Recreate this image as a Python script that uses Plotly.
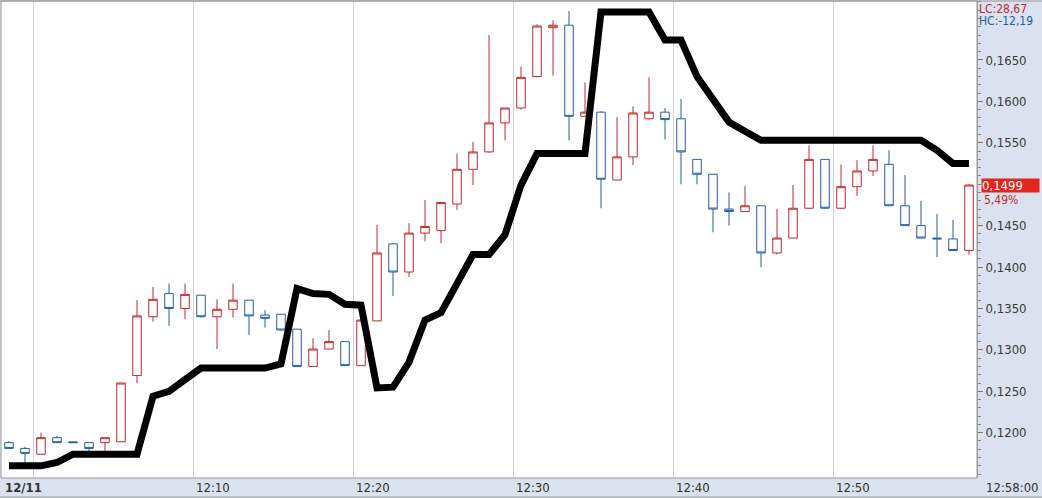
import plotly.graph_objects as go

# minute candles 11:58 .. 12:58
times = [f"{11 + (58 + i) // 60:02d}:{(58 + i) % 60:02d}" for i in range(61)]

opens = [0.1188, 0.1181, 0.1174, 0.1194, 0.1189, 0.1188, 0.1188, 0.1189, 0.1269, 0.1340,
         0.1368, 0.1350, 0.1366, 0.1340, 0.1349, 0.1360, 0.1342, 0.1343, 0.1325, 0.1280,
         0.1301, 0.1310, 0.1281, 0.1335, 0.1428, 0.1394, 0.1441, 0.1444, 0.1476, 0.1518,
         0.1539, 0.1574, 0.1592, 0.1630, 0.1689, 0.1692, 0.1582, 0.1587, 0.1505, 0.1533,
         0.1579, 0.1587, 0.1579, 0.1530, 0.1512, 0.1470, 0.1467, 0.1474, 0.1417, 0.1435,
         0.1471, 0.1530, 0.1471, 0.1497, 0.1516, 0.1524, 0.1474, 0.1450, 0.1435, 0.1434,
         0.1420]
highs = [0.1190, 0.1183, 0.1200, 0.1196, 0.1189, 0.1188, 0.1194, 0.1260, 0.1360, 0.1376,
         0.1380, 0.1380, 0.1366, 0.1361, 0.1380, 0.1360, 0.1348, 0.1343, 0.1325, 0.1314,
         0.1324, 0.1310, 0.1336, 0.1451, 0.1429, 0.1453, 0.1481, 0.1478, 0.1537, 0.1551,
         0.1680, 0.1592, 0.1642, 0.1693, 0.1698, 0.1709, 0.1623, 0.1588, 0.1581, 0.1594,
         0.1629, 0.1592, 0.1603, 0.1530, 0.1512, 0.1490, 0.1498, 0.1474, 0.1470, 0.1499,
         0.1547, 0.1530, 0.1524, 0.1529, 0.1547, 0.1541, 0.1511, 0.1480, 0.1464, 0.1457,
         0.1500]
lows = [0.1181, 0.1163, 0.1174, 0.1188, 0.1188, 0.1177, 0.1178, 0.1189, 0.1260, 0.1334,
        0.1329, 0.1337, 0.1339, 0.1301, 0.1339, 0.1318, 0.1327, 0.1323, 0.1280, 0.1280,
        0.1301, 0.1281, 0.1281, 0.1335, 0.1365, 0.1388, 0.1431, 0.1429, 0.1469, 0.1499,
        0.1538, 0.1553, 0.1590, 0.1629, 0.1631, 0.1553, 0.1582, 0.1471, 0.1505, 0.1523,
        0.1578, 0.1554, 0.1500, 0.1500, 0.1442, 0.1450, 0.1467, 0.1400, 0.1415, 0.1435,
        0.1470, 0.1470, 0.1470, 0.1486, 0.1510, 0.1474, 0.1450, 0.1435, 0.1412, 0.1420,
        0.1415]
closes = [0.1181, 0.1175, 0.1194, 0.1188, 0.1188, 0.1181, 0.1194, 0.1260, 0.1341, 0.1361,
          0.1350, 0.1367, 0.1340, 0.1349, 0.1360, 0.1341, 0.1338, 0.1324, 0.1280, 0.1301,
          0.1310, 0.1281, 0.1336, 0.1417, 0.1394, 0.1441, 0.1449, 0.1478, 0.1518, 0.1539,
          0.1574, 0.1592, 0.1629, 0.1691, 0.1692, 0.1582, 0.1587, 0.1506, 0.1533, 0.1586,
          0.1587, 0.1578, 0.1539, 0.1512, 0.1470, 0.1467, 0.1474, 0.1417, 0.1435, 0.1471,
          0.1530, 0.1471, 0.1497, 0.1516, 0.1530, 0.1474, 0.1450, 0.1435, 0.1434, 0.1420,
          0.1499]
indicator = [0.1160, 0.1160, 0.1160, 0.1164, 0.1174, 0.1174, 0.1174, 0.1174, 0.1174, 0.1244,
             0.1250, 0.1264, 0.1278, 0.1278, 0.1278, 0.1278, 0.1278, 0.1283, 0.1374, 0.1368,
             0.1367, 0.1355, 0.1354, 0.1254, 0.1255, 0.1285, 0.1336, 0.1345, 0.1382, 0.1415,
             0.1415, 0.1439, 0.1499, 0.1537, 0.1537, 0.1537, 0.1537, 0.1708, 0.1708, 0.1708,
             0.1708, 0.1674, 0.1674, 0.1630, 0.1604, 0.1575, 0.1564, 0.1553, 0.1553, 0.1553,
             0.1553, 0.1553, 0.1553, 0.1553, 0.1553, 0.1553, 0.1553, 0.1553, 0.1541, 0.1525,
             0.1525]

grid_labels = ["12/11", "12:10", "12:20", "12:30", "12:40", "12:50"]
grid_times = ["12:00", "12:10", "12:20", "12:30", "12:40", "12:50"]
last_time_label = "12:58:00"
ytick_vals = [0.1200, 0.1250, 0.1300, 0.1350, 0.1400, 0.1450, 0.1550, 0.1600, 0.1650]
ytick_text = [f"{v:.4f}".replace(".", ",") for v in ytick_vals]
change_pct = "5,49%"
lc_text = "LC:28,67"
hc_text = "HC:-12,19"

RED = "#c0282d"
BLUE = "#245ea3"
STRIP = "#d9e2ee"
FONT = "Liberation Sans Narrow, DejaVu Sans Condensed, Roboto Condensed, Roboto, sans-serif"

xs = list(range(len(times)))
grid_x = [times.index(t) - 0.5 for t in grid_times]

fig = go.Figure()
fig.add_trace(go.Candlestick(
    x=xs, open=opens, high=highs, low=lows, close=closes,
    increasing=dict(line=dict(color=RED, width=1), fillcolor="white"),
    decreasing=dict(line=dict(color=BLUE, width=1), fillcolor="white"),
    whiskerwidth=0, showlegend=False, hoverinfo="skip",
))
fig.add_trace(go.Scatter(
    x=xs, y=indicator, mode="lines",
    line=dict(color="black", width=7), showlegend=False, hoverinfo="skip",
))

annotations = []
for gx, lab in zip(grid_x, grid_labels):
    if lab == "12/11":
        annotations.append(dict(x=0, xref="paper", y=0, yref="paper", yanchor="top",
                                xanchor="left", xshift=2, yshift=0, showarrow=False,
                                text=f"<b>{lab}</b>", font=dict(family=FONT, size=13, color="#333")))
    else:
        annotations.append(dict(x=gx, xref="x", y=0, yref="paper", yanchor="top",
                                xanchor="left", xshift=1, yshift=0, showarrow=False,
                                text=lab, font=dict(family=FONT, size=13, color="#333")))
annotations.append(dict(x=1, xref="paper", y=0, yref="paper", yanchor="top", xanchor="left",
                        xshift=7, yshift=0, showarrow=False, text=last_time_label,
                        font=dict(family=FONT, size=13, color="#333")))
annotations.append(dict(x=1, xref="paper", y=1, yref="paper", yanchor="top", xanchor="left",
                        xshift=0, yshift=1, showarrow=False, text=lc_text,
                        font=dict(family=FONT, size=12, color=RED)))
annotations.append(dict(x=1, xref="paper", y=1, yref="paper", yanchor="top", xanchor="left",
                        xshift=0, yshift=-11, showarrow=False, text=hc_text,
                        font=dict(family=FONT, size=12, color=BLUE)))
annotations.append(dict(x=1, xref="paper", y=closes[-1], yref="y", yanchor="middle",
                        xanchor="left", xshift=4, showarrow=False,
                        text=f"{closes[-1]:.4f}".replace(".", ","), bgcolor="#e0261f",
                        width=57, height=13, align="left", borderpad=0,
                        font=dict(family=FONT, size=13, color="white")))
annotations.append(dict(x=1, xref="paper", y=closes[-1], yref="y", yanchor="top",
                        xanchor="left", xshift=5, yshift=-6, showarrow=False, text=change_pct,
                        font=dict(family=FONT, size=12, color=RED)))

shapes = [
    dict(type="rect", xref="paper", yref="paper", x0=0, x1=1, y0=0, y1=1,
         line=dict(color="#9a9a9a", width=1), layer="above"),
    dict(type="line", xref="paper", yref="paper", x0=-0.01, x1=1.1, y0=1, y1=1,
         line=dict(color="#9a9a9a", width=1)),
    dict(type="line", xref="paper", yref="paper", x0=-0.01, x1=1.1, y0=-0.04, y1=-0.04,
         line=dict(color="#9a9a9a", width=1)),
]

fig.update_layout(
    width=1042, height=498,
    margin=dict(l=1, r=65, t=1, b=20),
    paper_bgcolor=STRIP, plot_bgcolor="white",
    boxgap=0.24,
    annotations=annotations, shapes=shapes,
    xaxis=dict(range=[-0.5, 60.5], tickvals=grid_x, showticklabels=False, ticks="",
               showgrid=True, gridcolor="#d2d2d2", gridwidth=1, zeroline=False,
               rangeslider=dict(visible=False), showline=False),
    yaxis=dict(range=[0.11453, 0.17212], side="right", tickvals=ytick_vals, ticktext=ytick_text,
               ticks="outside", ticklen=5, tickcolor="#777", showgrid=False, zeroline=False,
               showline=True, linecolor="#9a9a9a",
               tickfont=dict(family=FONT, size=13, color="#3a3a3a"),
               minor=dict(dtick=0.001, tick0=0.12, ticks="outside", ticklen=3, tickcolor="#888",
                          showgrid=False)),
)

fig.write_html("out.html",
               config={"displayModeBar": False},
               post_script="document.body.style.margin='0';document.body.style.overflow='hidden';")
